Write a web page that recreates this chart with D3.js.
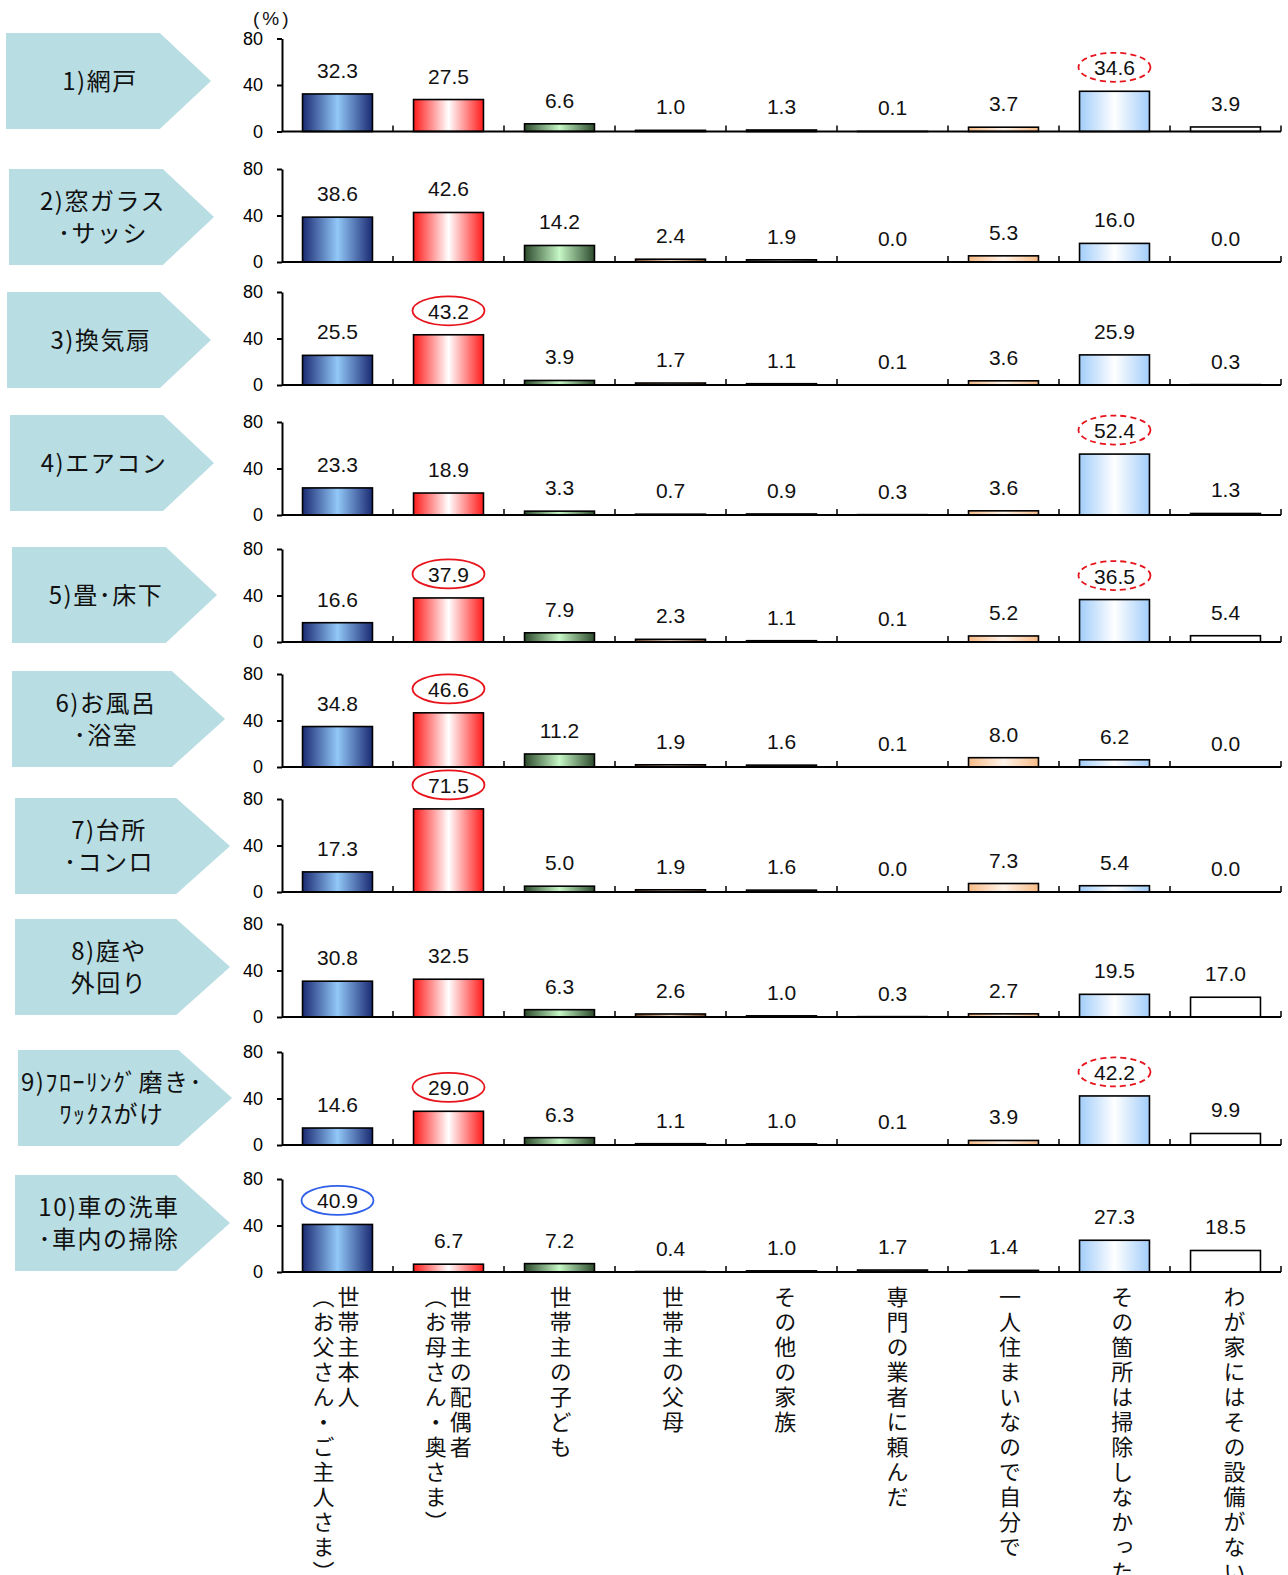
<!DOCTYPE html>
<html>
<head>
<meta charset="utf-8">
<script src="https://cdn.jsdelivr.net/npm/d3@7"></script>
<style>
  body { margin: 0; background: #fff; }
  svg { display: block; }
</style>
</head>
<body>
<div id="chart"></div>
<script>
// categories (who cleaned), each line is one vertical column
const categories = [
  ["世帯主本人", "（お父さん・ご主人さま）"],
  ["世帯主の配偶者", "（お母さん・奥さま）"],
  ["世帯主の子ども"],
  ["世帯主の父母"],
  ["その他の家族"],
  ["専門の業者に頼んだ"],
  ["一人住まいなので自分で"],
  ["その箇所は掃除しなかった"],
  ["わが家にはその設備がない"],
];

const panelLabels = [
  ["1)網戸"],
  ["2)窓ガラス", "･サッシ"],
  ["3)換気扇"],
  ["4)エアコン"],
  ["5)畳･床下"],
  ["6)お風呂", "･浴室"],
  ["7)台所", "･コンロ"],
  ["8)庭や", "外回り"],
  ["9)ﾌﾛｰﾘﾝｸﾞ磨き･", "ﾜｯｸｽがけ"],
  ["10)車の洗車", "･車内の掃除"],
];

const panelValues = [
  [32.3, 27.5, 6.6, 1.0, 1.3, 0.1, 3.7, 34.6, 3.9],
  [38.6, 42.6, 14.2, 2.4, 1.9, 0.0, 5.3, 16.0, 0.0],
  [25.5, 43.2, 3.9, 1.7, 1.1, 0.1, 3.6, 25.9, 0.3],
  [23.3, 18.9, 3.3, 0.7, 0.9, 0.3, 3.6, 52.4, 1.3],
  [16.6, 37.9, 7.9, 2.3, 1.1, 0.1, 5.2, 36.5, 5.4],
  [34.8, 46.6, 11.2, 1.9, 1.6, 0.1, 8.0, 6.2, 0.0],
  [17.3, 71.5, 5.0, 1.9, 1.6, 0.0, 7.3, 5.4, 0.0],
  [30.8, 32.5, 6.3, 2.6, 1.0, 0.3, 2.7, 19.5, 17.0],
  [14.6, 29.0, 6.3, 1.1, 1.0, 0.1, 3.9, 42.2, 9.9],
  [40.9, 6.7, 7.2, 0.4, 1.0, 1.7, 1.4, 27.3, 18.5],
];

const yTicks = [0, 40, 80];

// circled values: [panel, category, kind]
const highlights = [
  [0, 7, "dashed"],
  [2, 1, "solid"],
  [3, 7, "dashed"],
  [4, 1, "solid"],
  [4, 7, "dashed"],
  [5, 1, "solid"],
  [6, 1, "solid"],
  [8, 1, "solid"],
  [8, 7, "dashed"],
  [9, 0, "blue"],
];

// layout of each panel: zero line y, arrow box
const panelBase = [131.5, 262, 385, 515, 642, 767, 892, 1017, 1145, 1272];
const arrowBox = [
  [6, 211, 33], [9, 214, 169], [7, 211, 292], [10, 214, 415], [12, 217, 547],
  [12, 225, 671], [15, 230, 798], [15, 230, 919], [18, 232, 1050], [15, 230, 1175],
];

// bar fill per category: [edge, centre]
const barColors = [
  ["#1b2a72", "#92c8f8"],
  ["#ff1a1a", "#ffffff"],
  ["#2c4a2c", "#c6f7c6"],
  ["#7a4a2a", "#f0d8c0"],
  ["#404040", "#c0c0c0"],
  ["#303030", "#909090"],
  ["#f7bb88", "#fff4ea"],
  ["#a2cdfa", "#ffffff"],
  ["#ffffff", "#ffffff"],
];

const W = 1288, H = 1575;
const svg = d3.select("#chart").append("svg").attr("width", W).attr("height", H);

const defs = svg.append("defs");
barColors.forEach(([edge, mid], i) => {
  const g = defs.append("linearGradient").attr("id", "grad" + i)
    .attr("x1", 0).attr("x2", 1).attr("y1", 0).attr("y2", 0);
  g.append("stop").attr("offset", 0).attr("stop-color", edge);
  g.append("stop").attr("offset", 0.5).attr("stop-color", mid);
  g.append("stop").attr("offset", 1).attr("stop-color", edge);
});

const x = d3.scaleBand().domain(d3.range(categories.length)).range([282, 1281]);
const barW = x.bandwidth() * 0.63;
const plotH = 93;

const jp = "'Noto Sans CJK JP', sans-serif";
const num = "'Liberation Sans', Arial, sans-serif";

panelValues.forEach((vals, p) => {
  const base = panelBase[p];
  const y = d3.scaleLinear().domain([0, 80]).range([base, base - plotH]);
  const g = svg.append("g");

  // arrow label
  const [ax0, ax1, ay] = arrowBox[p];
  const ah = 96, tip = (ax1 - ax0) * 0.25;
  g.append("path")
    .attr("d", `M${ax0},${ay}H${ax1 - tip}L${ax1},${ay + ah / 2}L${ax1 - tip},${ay + ah}H${ax0}Z`)
    .attr("fill", "#b8dde2");
  const lines = panelLabels[p];
  g.append("g").selectAll("text").data(lines).join("text")
    .attr("x", ax0 + 94)
    .attr("y", (d, i) => ay + ah / 2 + (i - (lines.length - 1) / 2) * 32)
    .attr("dy", "0.36em")
    .attr("text-anchor", "middle")
    .attr("font-family", jp).attr("font-size", 24).attr("letter-spacing", 1.5).attr("fill", "#111")
    .text(d => d);

  // y axis
  const yAxis = d3.axisLeft(y).tickValues(yTicks).tickSize(5).tickSizeOuter(0).tickPadding(14);
  g.append("g").attr("transform", `translate(${x.range()[0]},0)`).call(yAxis)
    .call(a => a.select(".domain").attr("stroke-width", 2))
    .call(a => a.selectAll(".tick line").attr("stroke-width", 2))
    .call(a => a.selectAll(".tick text").attr("font-family", num).attr("font-size", 18).attr("fill", "#000"));

  // bars
  g.append("g").selectAll("rect").data(vals).join("rect")
    .attr("x", (d, i) => x(i) + (x.bandwidth() - barW) / 2)
    .attr("width", barW)
    .attr("y", d => y(d))
    .attr("height", d => y(0) - y(d))
    .attr("fill", (d, i) => `url(#grad${i})`)
    .attr("stroke", "#000").attr("stroke-width", 1.6);

  // x baseline with inner ticks at band edges
  g.append("line").attr("x1", x.range()[0]).attr("x2", x.range()[1])
    .attr("y1", base).attr("y2", base).attr("stroke", "#000").attr("stroke-width", 2);
  g.append("g").selectAll("line").data(d3.range(1, categories.length + 1)).join("line")
    .attr("x1", i => x.range()[0] + x.step() * i).attr("x2", i => x.range()[0] + x.step() * i)
    .attr("y1", base).attr("y2", base - 6)
    .attr("stroke", "#000").attr("stroke-width", 1.5);

  // value labels
  g.append("g").selectAll("text").data(vals).join("text")
    .attr("x", (d, i) => x(i) + x.bandwidth() / 2)
    .attr("y", d => y(d) - 16)
    .attr("text-anchor", "middle")
    .attr("font-family", num).attr("font-size", 21).attr("fill", "#111")
    .text(d => d.toFixed(1));

  // circled values
  g.append("g").selectAll("ellipse").data(highlights.filter(h => h[0] === p)).join("ellipse")
    .attr("cx", h => x(h[1]) + x.bandwidth() / 2)
    .attr("cy", h => y(vals[h[1]]) - 24)
    .attr("rx", 36).attr("ry", 14.5)
    .attr("fill", "none")
    .attr("stroke", h => h[2] === "blue" ? "#2f5fe8" : "#e8141c")
    .attr("stroke-width", 1.8)
    .attr("stroke-dasharray", h => h[2] === "dashed" ? "6,4" : null);

  if (p === 0) {
    g.append("text").attr("x", 253).attr("y", 25)
      .attr("font-family", num).attr("font-size", 19).attr("letter-spacing", 3).attr("fill", "#111")
      .text("(%)");
  }
});

// vertical category labels
const labelX = d3.scaleLinear().domain([0, categories.length - 1]).range([336, 1234.5]);
svg.append("g").selectAll("g").data(categories).join("g")
  .each(function (cols, i) {
    d3.select(this).selectAll("text").data(cols).join("text")
      .attr("x", (d, k) => labelX(i) + (cols.length === 1 ? 0 : (k === 0 ? 12.5 : -12.5)))
      .attr("y", 1286)
      .style("writing-mode", "vertical-rl")
      .attr("font-family", jp).attr("font-size", 22).attr("letter-spacing", 3)
      .attr("fill", "#111")
      .text(d => d);
  });
</script>
</body>
</html>
